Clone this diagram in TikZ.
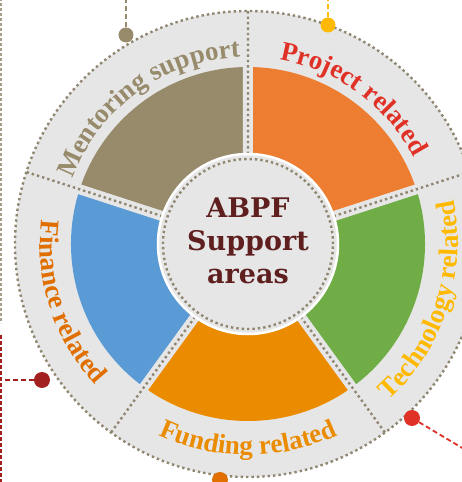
\documentclass[tikz,border=0pt]{standalone}
\usepackage{fontspec}
\setmainfont{DejaVu Serif}
\newfontfamily\labfamily{Liberation Serif}
\usepackage{tikz}
\usetikzlibrary{
	decorations.text
}

\definecolor{ringgray}{HTML}{E6E6E6}
\definecolor{dotkhaki}{HTML}{8F8670}
\definecolor{mentcol}{HTML}{978B6B}
\definecolor{projcol}{HTML}{ED7D31}
\definecolor{techcol}{HTML}{70AD47}
\definecolor{fundcol}{HTML}{EB8C00}
\definecolor{fincol}{HTML}{5B9BD5}
\definecolor{projtxt}{HTML}{E03127}
\definecolor{techtxt}{HTML}{FFB900}
\definecolor{fintxt}{HTML}{E06F00}
\definecolor{hubtxt}{HTML}{5E1F1E}
\definecolor{darkred}{HTML}{A32020}
\definecolor{leadkhaki}{HTML}{A89F8A}

\newcommand{\labfont}{\labfamily\fontsize{27}{30}\selectfont\bfseries}
\newcommand{\hubfont}{\fontsize{27}{33}\selectfont\bfseries}

\tikzset{
	dotline/.style={dotkhaki, line width=2.4, dash pattern=on 2.4 off 3},
	gapline/.style={ringgray, line width=10},
	pindot/.style={circle, fill=#1, inner sep=0pt, minimum size=15},
	lead/.style={#1, line width=1.8, dash pattern=on 5 off 3},
	arclabel/.style 2 args={font=\labfont, decorate, decoration={text along path,
		text align=center, text color=#1, text={|\labfont|#2}}}
}

\begin{document}
\begin{tikzpicture}[x=1pt, y=1pt]
	\useasboundingbox (-248,-238) rectangle (214,244);

	% ring and wedges
	\fill[ringgray] (0,0) circle[radius=233];
	\draw[dotline] (0,0) circle[radius=233];

	\fill[projcol] (90:90) arc[start angle=90, end angle=18, radius=90]
		-- (18:177) arc[start angle=18, end angle=90, radius=177] -- cycle;
	\fill[techcol] (18:90) arc[start angle=18, end angle=-54, radius=90]
		-- (-54:177) arc[start angle=-54, end angle=18, radius=177] -- cycle;
	\fill[fundcol] (-54:90) arc[start angle=-54, end angle=-126, radius=90]
		-- (-126:177) arc[start angle=-126, end angle=-54, radius=177] -- cycle;
	\fill[fincol] (-126:90) arc[start angle=-126, end angle=-198, radius=90]
		-- (162:177) arc[start angle=162, end angle=234, radius=177] -- cycle;
	\fill[mentcol] (162:90) arc[start angle=162, end angle=90, radius=90]
		-- (90:177) arc[start angle=90, end angle=162, radius=177] -- cycle;

	\draw[gapline] (90:80) -- (90:185) (18:80) -- (18:185) (-54:80) -- (-54:185)
		(-126:80) -- (-126:185) (162:80) -- (162:185);
	\draw[dotline] (90:90) -- (90:233) (18:90) -- (18:233) (-54:90) -- (-54:233)
		(-126:90) -- (-126:233) (162:90) -- (162:233);

	% hub
	\fill[ringgray] (0,0) circle[radius=90];
	\draw[white, line width=2.5] (0,0) circle[radius=90];
	\draw[dotline] (0,0) circle[radius=85];
	\node[align=center, font=\hubfont, text=hubtxt] (hub) at (0,3) {ABPF\\Support\\areas};

	% labels
	\path[arclabel={mentcol}{Mentoring support}]
		(166:187) arc[start angle=166, end angle=86, radius=187];
	\path[arclabel={projtxt}{Project related}]
		(94:187) arc[start angle=94, end angle=14, radius=187];
	\path[arclabel={techtxt}{Technology related}]
		(-62:210) arc[start angle=-62, end angle=26, radius=210];
	\path[arclabel={fundcol}{Funding related}]
		(-130:211) arc[start angle=-130, end angle=-50, radius=211];
	\path[arclabel={fintxt}{Finance related}]
		(156:208) arc[start angle=156, end angle=240, radius=208];

	% pins and leads
	\node[pindot=mentcol]  (mentpin) at (-122,209) {};
	\node[pindot=techtxt]  (projpin) at (80,219) {};
	\node[pindot=darkred, minimum size=16]  (finpin)  at (-206,-136) {};
	\node[pindot=projtxt, minimum size=16]  (techpin) at (164,-174) {};
	\node[pindot=fintxt, minimum size=16]   (fundpin) at (-28,-236) {};

	\coordinate (mentend) at (-122,246);
	\coordinate (projend) at (80,246);
	\coordinate (finend)  at (-250,-136);
	\coordinate (techend) at (216,-205);
	\coordinate (sidetop) at (-247,246);
	\coordinate (sidemid) at (-247,-79);
	\coordinate (redtop)  at (-247,-91);
	\coordinate (redbot)  at (-247,-240);

	\draw[lead=mentcol] (mentpin) -- (mentend);
	\draw[lead=techtxt] (projpin) -- (projend);
	\draw[lead=darkred] (finpin) -- (finend);
	\draw[lead=projtxt] (techpin) -- (techend);
	\draw[lead=leadkhaki, line width=1.5, dash pattern=on 3 off 2] (sidetop) -- (sidemid);
	\draw[lead=darkred, line width=1.5, dash pattern=on 4 off 2] (redtop) -- (redbot);
\end{tikzpicture}
\end{document}
